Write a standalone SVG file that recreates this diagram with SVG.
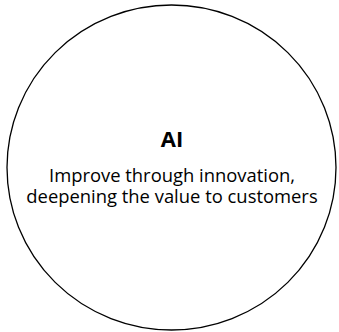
<svg xmlns="http://www.w3.org/2000/svg" width="339" height="332" viewBox="0 0 339 332">
<style>
.node{fill:#fff;stroke:#000;stroke-width:1.3}
.t{font-family:"Open Sans","Liberation Sans",sans-serif;text-anchor:middle;fill:#000}
.title{font-size:22px;font-weight:bold}
.body{font-size:18.4px}
</style>
<rect width="339" height="332" fill="#fff"/>
<g id="connectors"/>
<g id="node-ai">
<ellipse class="node" cx="171.5" cy="167.5" rx="164.5" ry="162.5"/>
<text class="t title" x="172" y="147">AI</text>
<text class="t body" x="172" y="181.5">Improve through innovation,</text>
<text class="t body" x="172" y="202.5">deepening the value to customers</text>
</g>
</svg>
